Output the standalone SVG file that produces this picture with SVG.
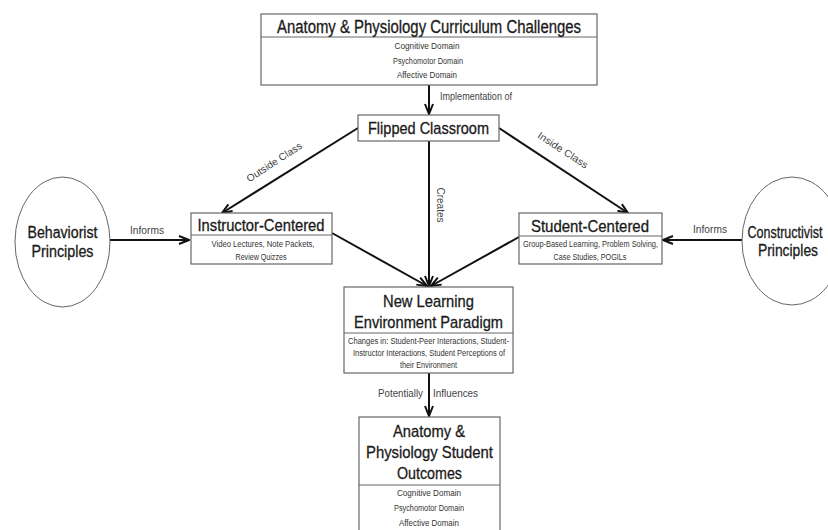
<svg xmlns="http://www.w3.org/2000/svg" width="828" height="530" viewBox="0 0 828 530">
<defs>
<marker id="ah" markerUnits="userSpaceOnUse" viewBox="0 0 12 10" refX="11" refY="5" markerWidth="12" markerHeight="10" orient="auto">
<path d="M1,1 L11,5 L1,9" fill="none" stroke="#111" stroke-width="2"/>
</marker>
<style>
.box{fill:#fff;stroke:#666;stroke-width:1.2}
.div{stroke:#666;stroke-width:1}
.ell{fill:#fff;stroke:#666;stroke-width:1}
.t{font-family:"Liberation Sans Narrow","Liberation Sans",Arial,sans-serif;fill:#1a1a1a;stroke:#1a1a1a;stroke-width:0.3;text-anchor:middle}
.s{font-family:"Liberation Sans Narrow","Liberation Sans",Arial,sans-serif;fill:#333;text-anchor:middle;font-size:8.5px}
.l{font-family:"Liberation Sans Narrow","Liberation Sans",Arial,sans-serif;fill:#444;font-size:10px}
.c{stroke:#111;stroke-width:2;fill:none;marker-end:url(#ah)}
</style>
</defs>
<rect width="828" height="530" fill="#fff"/>

<g id="connectors">
<line class="c" x1="429" y1="85" x2="429" y2="114"/>
<line class="c" x1="358" y1="128" x2="222" y2="213"/>
<line class="c" x1="499" y1="128" x2="628" y2="213"/>
<line class="c" x1="429" y1="141" x2="429" y2="286"/>
<line class="c" x1="332" y1="233" x2="427" y2="286"/>
<line class="c" x1="519" y1="237" x2="431" y2="286"/>
<line class="c" x1="110" y1="240" x2="189" y2="240"/>
<line class="c" x1="742" y1="240" x2="663" y2="240"/>
<line class="c" x1="429" y1="373" x2="429" y2="416"/>
<text class="l" x="440" y="100" textLength="72" lengthAdjust="spacingAndGlyphs">Implementation of</text>
<text class="l" text-anchor="middle" transform="translate(276,165) rotate(-33)" textLength="64" lengthAdjust="spacingAndGlyphs">Outside Class</text>
<text class="l" text-anchor="middle" transform="translate(561,153) rotate(33)" textLength="58" lengthAdjust="spacingAndGlyphs">Inside Class</text>
<text class="l" text-anchor="middle" transform="translate(437,205) rotate(90)" textLength="35" lengthAdjust="spacingAndGlyphs">Creates</text>
<text class="l" x="147" y="234" text-anchor="middle" textLength="34" lengthAdjust="spacingAndGlyphs">Informs</text>
<text class="l" x="710" y="233" text-anchor="middle" textLength="34" lengthAdjust="spacingAndGlyphs">Informs</text>
<text class="l" x="423" y="397" text-anchor="end" textLength="45" lengthAdjust="spacingAndGlyphs">Potentially</text>
<text class="l" x="433" y="397" textLength="45" lengthAdjust="spacingAndGlyphs">Influences</text>
</g>

<g id="curriculum">
<rect class="box" x="261" y="14" width="336" height="71"/>
<line class="div" x1="261" y1="37" x2="597" y2="37"/>
<text class="t" x="429" y="33" font-size="17.5" textLength="304" lengthAdjust="spacingAndGlyphs">Anatomy &amp; Physiology Curriculum Challenges</text>
<text class="s" x="427" y="49" textLength="65" lengthAdjust="spacingAndGlyphs">Cognitive Domain</text>
<text class="s" x="428" y="64" textLength="70" lengthAdjust="spacingAndGlyphs">Psychomotor Domain</text>
<text class="s" x="427" y="78" textLength="60" lengthAdjust="spacingAndGlyphs">Affective Domain</text>
</g>

<g id="flipped">
<rect class="box" x="358" y="115" width="141" height="26"/>
<text class="t" x="428.5" y="134" font-size="16.5" textLength="121" lengthAdjust="spacingAndGlyphs">Flipped Classroom</text>
</g>

<g id="instructor">
<rect class="box" x="191" y="213" width="141" height="51"/>
<line class="div" x1="191" y1="235" x2="332" y2="235"/>
<text class="t" x="261" y="231" font-size="16" textLength="127" lengthAdjust="spacingAndGlyphs">Instructor-Centered</text>
<text class="s" x="263" y="247" textLength="103" lengthAdjust="spacingAndGlyphs">Video Lectures, Note Packets,</text>
<text class="s" x="261" y="260" textLength="51" lengthAdjust="spacingAndGlyphs">Review Quizzes</text>
</g>

<g id="student">
<rect class="box" x="519" y="213" width="143" height="51"/>
<line class="div" x1="519" y1="236" x2="662" y2="236"/>
<text class="t" x="590" y="232" font-size="16" textLength="118" lengthAdjust="spacingAndGlyphs">Student-Centered</text>
<text class="s" x="590.5" y="247" textLength="135" lengthAdjust="spacingAndGlyphs">Group-Based Learning, Problem Solving,</text>
<text class="s" x="590" y="260" textLength="73" lengthAdjust="spacingAndGlyphs">Case Studies, POGILs</text>
</g>

<g id="behaviorist">
<ellipse class="ell" cx="62.5" cy="242" rx="47.5" ry="65"/>
<text class="t" x="62.5" y="238" font-size="16" textLength="70" lengthAdjust="spacingAndGlyphs">Behaviorist</text>
<text class="t" x="62.5" y="257" font-size="16" textLength="62" lengthAdjust="spacingAndGlyphs">Principles</text>
</g>

<g id="constructivist">
<ellipse class="ell" cx="792" cy="241" rx="50" ry="64"/>
<text class="t" x="785" y="238" font-size="16" textLength="75" lengthAdjust="spacingAndGlyphs">Constructivist</text>
<text class="t" x="788" y="256" font-size="16" textLength="60" lengthAdjust="spacingAndGlyphs">Principles</text>
</g>

<g id="paradigm">
<rect class="box" x="344" y="287" width="169" height="86"/>
<line class="div" x1="344" y1="333" x2="513" y2="333"/>
<text class="t" x="428.5" y="307" font-size="17" textLength="91" lengthAdjust="spacingAndGlyphs">New Learning</text>
<text class="t" x="428.5" y="328" font-size="17" textLength="149" lengthAdjust="spacingAndGlyphs">Environment Paradigm</text>
<text class="s" x="428.5" y="344" textLength="161" lengthAdjust="spacingAndGlyphs">Changes in:  Student-Peer Interactions, Student-</text>
<text class="s" x="429" y="356" textLength="152" lengthAdjust="spacingAndGlyphs">Instructor Interactions,  Student Perceptions of</text>
<text class="s" x="428.5" y="368" textLength="57" lengthAdjust="spacingAndGlyphs">their Environment</text>
</g>

<g id="outcomes">
<rect class="box" x="359" y="417" width="141" height="120"/>
<line class="div" x1="359" y1="485" x2="500" y2="485"/>
<text class="t" x="429" y="437" font-size="17" textLength="72" lengthAdjust="spacingAndGlyphs">Anatomy &amp;</text>
<text class="t" x="429.5" y="458" font-size="17" textLength="127" lengthAdjust="spacingAndGlyphs">Physiology Student</text>
<text class="t" x="429.5" y="479" font-size="17" textLength="65" lengthAdjust="spacingAndGlyphs">Outcomes</text>
<text class="s" x="429" y="496" textLength="64" lengthAdjust="spacingAndGlyphs">Cognitive Domain</text>
<text class="s" x="429" y="511" textLength="70" lengthAdjust="spacingAndGlyphs">Psychomotor Domain</text>
<text class="s" x="429" y="526" textLength="60" lengthAdjust="spacingAndGlyphs">Affective Domain</text>
</g>
</svg>
